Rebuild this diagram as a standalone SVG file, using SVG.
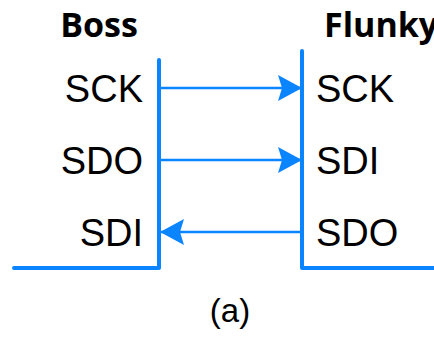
<svg xmlns="http://www.w3.org/2000/svg" width="434" height="337" viewBox="0 0 434 337">
<style>
.t{font-family:"Liberation Sans",Arial,sans-serif;font-size:38px;fill:#000}
.h{font-family:"Open Sans","Liberation Sans",sans-serif;font-weight:bold;font-size:34px;fill:#000}
.bus{fill:none;stroke:#0a84ff;stroke-width:4;stroke-linecap:round;stroke-linejoin:round}
.sig{fill:none;stroke:#0a84ff;stroke-width:2.5}
</style>
<defs>
<marker id="ah" viewBox="0 0 24 26" refX="23" refY="13" markerWidth="24" markerHeight="26" markerUnits="userSpaceOnUse" orient="auto">
<path d="M0,0 L24,13 L0,26 L4,13 Z" fill="#0a84ff"/>
</marker>
</defs>
<g id="boss">
<text class="h" x="99" y="37" text-anchor="middle">Boss</text>
<path class="bus" d="M159,60 V268 H14"/>
<text class="t" x="143" y="102" text-anchor="end">SCK</text>
<text class="t" x="143" y="174" text-anchor="end">SDO</text>
<text class="t" x="143" y="246" text-anchor="end">SDI</text>
</g>
<g id="flunky">
<text class="h" x="324" y="37">Flunky</text>
<path class="bus" d="M302,51 V268 H436"/>
<text class="t" x="316" y="102">SCK</text>
<text class="t" x="316" y="174">SDI</text>
<text class="t" x="316" y="246">SDO</text>
</g>
<g id="connectors">
<line class="sig" x1="161" y1="88" x2="301" y2="88" marker-end="url(#ah)"/>
<line class="sig" x1="161" y1="160" x2="301" y2="160" marker-end="url(#ah)"/>
<line class="sig" x1="300" y1="232" x2="161" y2="232" marker-end="url(#ah)"/>
</g>
<text class="t" x="230" y="322" text-anchor="middle" style="font-size:33px">(a)</text>
</svg>
